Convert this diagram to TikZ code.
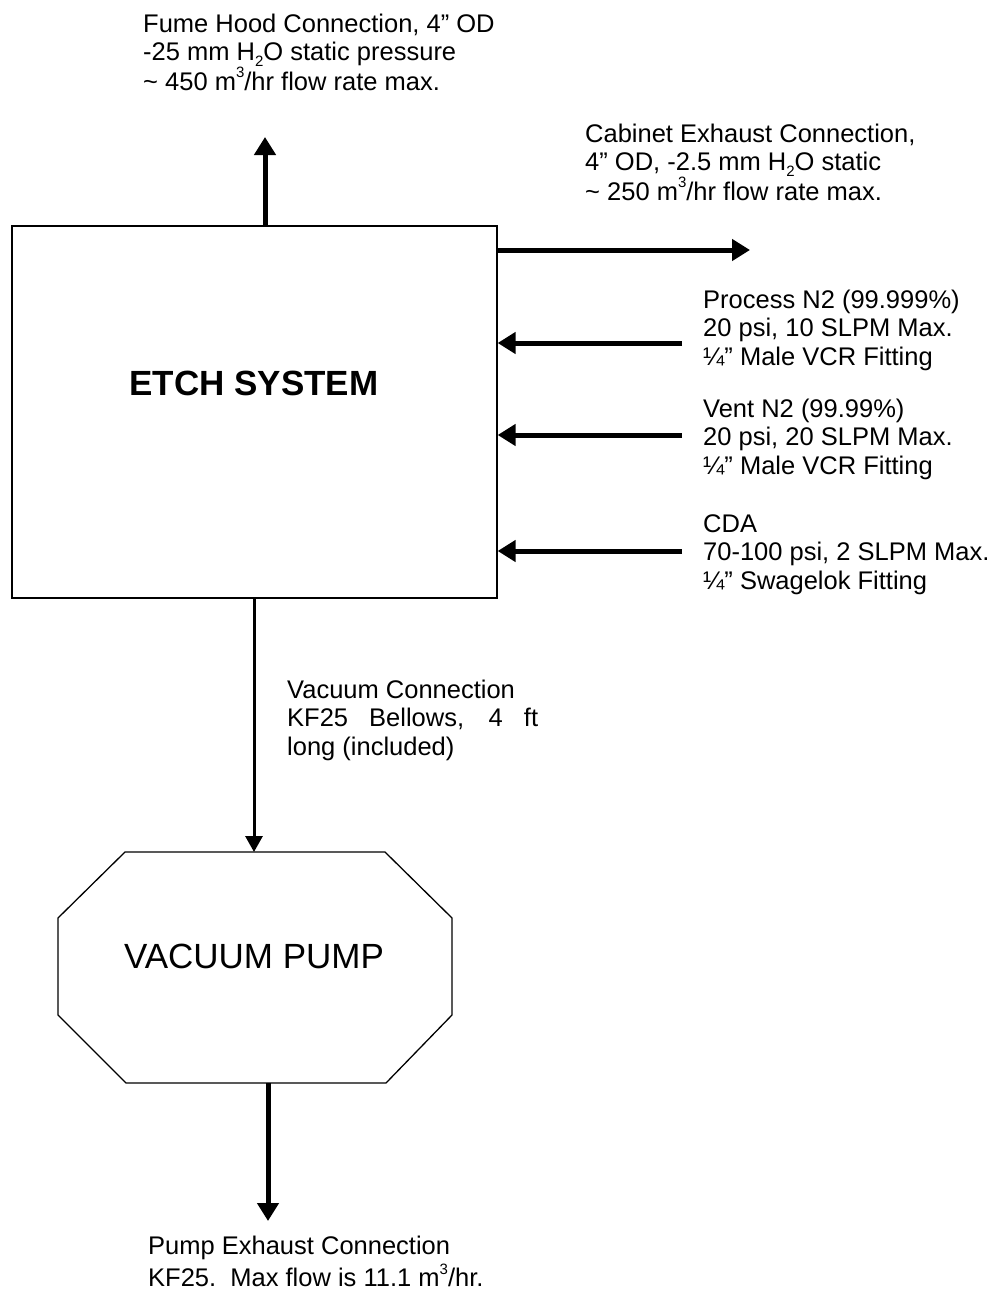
\documentclass[tikz,border=0pt]{standalone}
\usepackage{fontspec}
\setmainfont{Liberation Sans}
\usetikzlibrary{arrows.meta}
\tikzset{
  lbl/.style={anchor=north west, inner sep=0pt, align=left, font=\fontsize{25.5}{28.5}\selectfont},
  title/.style={inner sep=0pt, font=\fontsize{35}{40}\selectfont},
  big/.style={line width=5pt, -{Triangle[width=21pt,length=18pt]}},
  thin/.style={line width=3pt, -{Triangle[width=17pt,length=16pt]}},
  outline/.style={line width=1.3pt},
}
\newcommand{\sq}{\raisebox{-0.22em}{\fontsize{15}{15}\selectfont 2}}
\newcommand{\cu}{\raisebox{0.5em}{\fontsize{15}{15}\selectfont 3}}
\begin{document}
\begin{tikzpicture}[x=1pt,y=-1pt]
\useasboundingbox[fill=white] (0,0) rectangle (996,1290);
% etch system box
\node[draw, outline, minimum width=485pt, minimum height=372pt, inner sep=0pt] (etch) at (254.5,412) {};
\node[title, font=\fontsize{35}{40}\selectfont\bfseries] (etchlbl) at (254,383) {ETCH SYSTEM};
% vacuum pump octagon
\coordinate (p1) at (125,852);
\coordinate (p2) at (385,852);
\coordinate (p3) at (452,918);
\coordinate (p4) at (452,1015);
\coordinate (p5) at (386,1083);
\coordinate (p6) at (126,1083);
\coordinate (p7) at (58,1015);
\coordinate (p8) at (58,918);
\draw[outline, line join=miter] (p1) -- (p2) -- (p3) -- (p4) -- (p5) -- (p6) -- (p7) -- (p8) -- cycle;
\node[title] (pumplbl) at (254,956) {VACUUM PUMP};
\coordinate (pumptop) at (254,852);
\coordinate (pumpbot) at (268,1083);
% connector end points
\coordinate (fumeend) at (265,137);
\coordinate (cabend) at (750,250);
\coordinate (proc) at (682,343);
\coordinate (vent) at (682,435);
\coordinate (cda) at (682,551);
\coordinate (exend) at (268,1221);
% connectors
\draw[big] (etch.north -| fumeend) -- (fumeend);
\draw[big] (etch.east |- cabend) -- (cabend);
\draw[big] (proc) -- (etch.east |- proc);
\draw[big] (vent) -- (etch.east |- vent);
\draw[big] (cda) -- (etch.east |- cda);
\draw[thin] (etch.south -| pumptop) -- (pumptop);
\draw[big] (pumpbot) -- (exend);
% labels (north = first baseline - 20)
\node[lbl] (fumetxt) at (143,12) {\strut Fume Hood Connection, 4” OD\\-25 mm H\sq O static pressure\\\textasciitilde{} 450 m\cu/hr flow rate max.};
\node[lbl] (cabtxt) at (585,122) {\strut Cabinet Exhaust Connection,\\4” OD, -2.5 mm H\sq O static\\\textasciitilde{} 250 m\cu/hr flow rate max.};
\node[lbl] (proctxt) at (703,288) {\strut Process N2 (99.999\%)\\20 psi, 10 SLPM Max.\\¼” Male VCR Fitting};
\node[lbl] (venttxt) at (703,397) {\strut Vent N2 (99.99\%)\\20 psi, 20 SLPM Max.\\¼” Male VCR Fitting};
\node[lbl] (cdatxt) at (703,512) {\strut CDA\\70-100 psi, 2 SLPM Max.\\¼” Swagelok Fitting};
\node[lbl] (vactxt) at (287,678) {\strut Vacuum Connection\\\makebox[251pt][s]{KF25 Bellows, 4 ft}\\long (included)};
\node[lbl, font=\fontsize{25.5}{27.5}\selectfont] (extxt) at (148,1235) {\strut Pump Exhaust Connection\\KF25.\ \ Max flow is 11.1 m\cu/hr.};
\end{tikzpicture}
\end{document}
